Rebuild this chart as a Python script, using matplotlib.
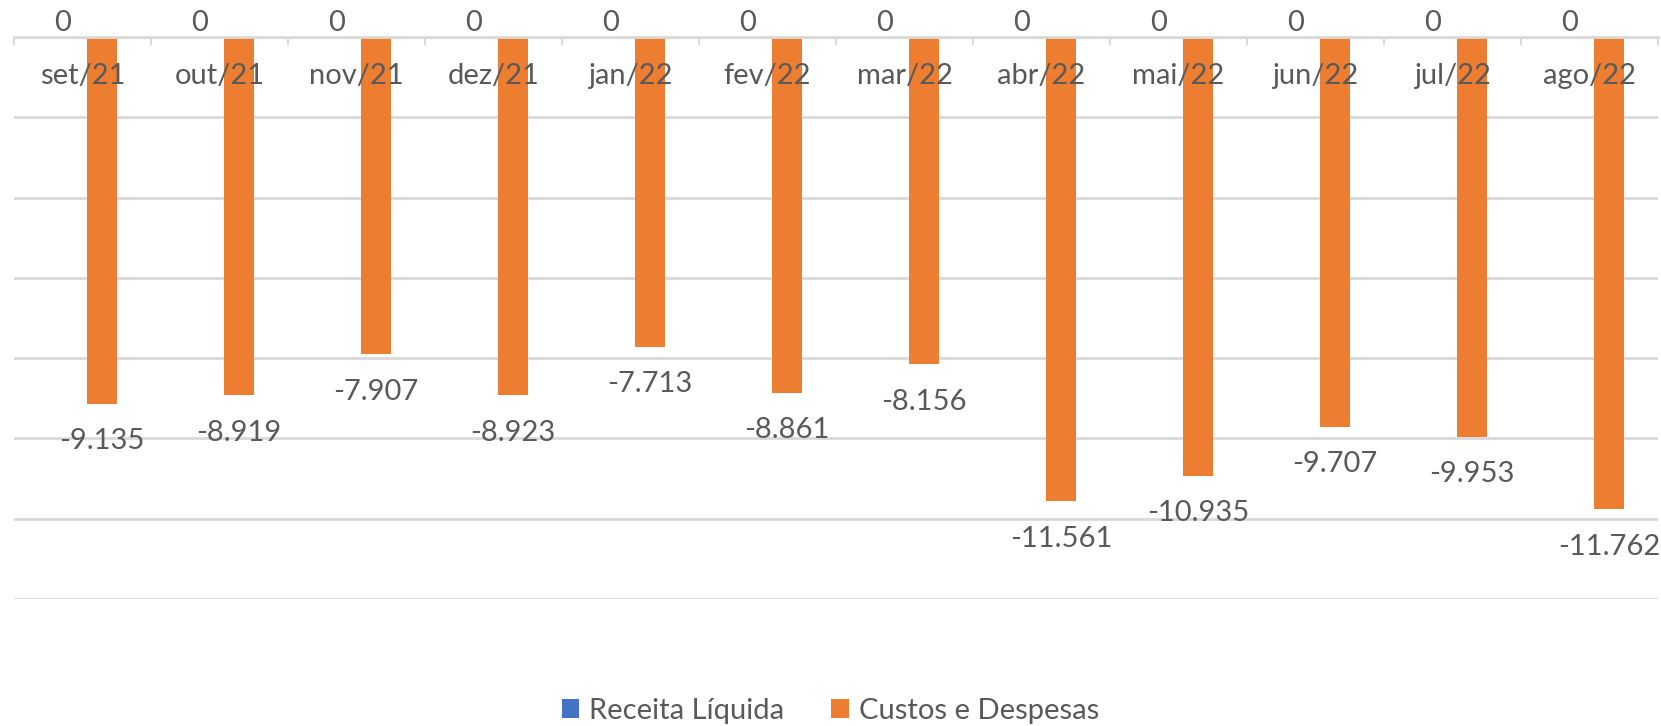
import matplotlib.pyplot as plt
import numpy as np

meses = ["set/21", "out/21", "nov/21", "dez/21", "jan/22", "fev/22",
         "mar/22", "abr/22", "mai/22", "jun/22", "jul/22", "ago/22"]
receita = [0, 0, 0, 0, 0, 0, 0, 0, 0, 0, 0, 0]
custos = [-9.135, -8.919, -7.907, -8.923, -7.713, -8.861,
          -8.156, -11.561, -10.935, -9.707, -9.953, -11.762]

azul = "#4472C4"
laranja = "#ED7D31"
cinza_txt = "#595959"
cinza_grade = "#D9D9D9"

plt.rcParams['font.family'] = ['Lato', 'DejaVu Sans']
fs = 21

fig = plt.figure(figsize=(16.61, 7.26), dpi=100)
ax = fig.add_axes([14/1661, 1 - 599/726, 1644/1661, 562/726])

x = np.arange(len(meses))
larg = 0.219
desl = 0.142

b1 = ax.bar(x - desl, receita, larg, color=azul, label="Receita Líquida")
b2 = ax.bar(x + desl, custos, larg, color=laranja, label="Custos e Despesas")

ax.set_xlim(-0.5, len(meses) - 0.5)
ax.set_ylim(-14, 0)
ax.set_yticks(np.arange(-14, 1, 2))
ax.yaxis.grid(True, color=cinza_grade, linewidth=2)
ax.set_axisbelow(True)
ax.tick_params(axis='y', length=0, labelleft=False)

# eixo das categorias fica na linha do zero (topo)
ax.xaxis.set_ticks_position('top')
ax.set_xticks(np.arange(len(meses) + 1) - 0.5)
ax.tick_params(axis='x', direction='in', length=6, width=1.5,
               color=cinza_grade, labeltop=False, labelbottom=False)
for s in ["left", "right", "bottom"]:
    ax.spines[s].set_visible(False)
ax.spines["top"].set_color(cinza_grade)
ax.spines["top"].set_linewidth(2)

# rótulos das categorias por cima das barras, como no Excel
for i, m in enumerate(meses):
    ax.annotate(m, (x[i], 0), xytext=(0, -28), textcoords="offset points",
                ha="center", va="center", fontsize=fs, color=cinza_txt,
                zorder=5)

for i in range(len(meses)):
    ax.annotate(f"{receita[i]:g}", (x[i] - desl, receita[i]), xytext=(0, 10),
                textcoords="offset points", ha="center", va="center",
                fontsize=fs, color=cinza_txt, annotation_clip=False)
    ax.annotate(f"{custos[i]:.3f}", (x[i] + desl, custos[i]), xytext=(0, -27),
                textcoords="offset points", ha="center", va="center",
                fontsize=fs, color=cinza_txt, annotation_clip=False)

leg = fig.legend(handles=[b1, b2], loc="center", bbox_to_anchor=(0.5, 1 - 711/726),
                 ncol=2, frameon=False, fontsize=fs, handlelength=0.6,
                 handleheight=0.6, handletextpad=0.35, columnspacing=1.6)
for t in leg.get_texts():
    t.set_color(cinza_txt)

fig.savefig("out.png", dpi=100)
